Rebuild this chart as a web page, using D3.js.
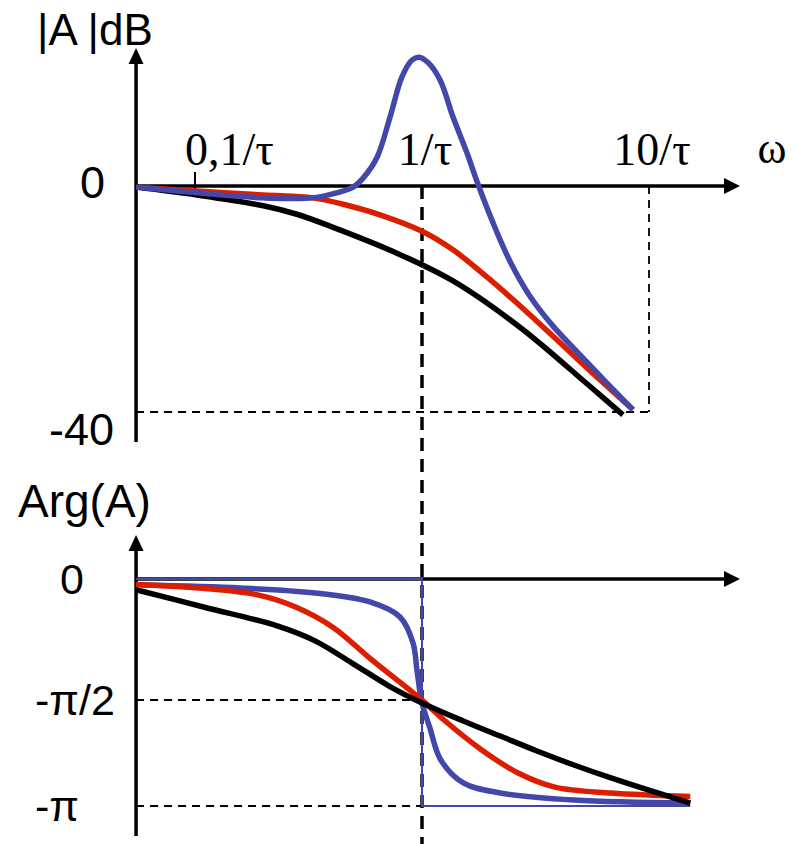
<!DOCTYPE html>
<html>
<head>
<meta charset="utf-8">
<script src="https://cdn.jsdelivr.net/npm/d3@7"></script>
<style>
    body { margin: 0; background: #fff; }
    .sans { font-family: "Liberation Sans", Arial, sans-serif; }
    .serif { font-family: "Liberation Serif", "Times New Roman", serif; }
</style>
</head>
<body>
<div id="chart"></div>
<script>
// frequencies in units of 1/tau, magnitude in dB, phase in degrees
const magBlackW = [0.055, 0.102, 0.2, 0.281, 0.393, 0.776, 1.37, 2.7, 5.33, 7.68];
const magBlackDb = [-0.2, -1.6, -3.5, -5.0, -7.1, -11.9, -16.8, -25.0, -35.0, -40.5];

const magRedW = [0.055, 0.102, 0.2, 0.331, 0.467, 0.653, 1, 1.37, 1.93, 2.7, 3.78, 5.33, 8.5];
const magRedDb = [-0.2, -0.9, -1.6, -2.1, -3.4, -5.1, -8.0, -11.3, -16.1, -21.2, -26.6, -32.2, -39.6];

const magBlueW = [0.055, 0.102, 0.2, 0.331, 0.422, 0.497, 0.55, 0.634, 0.723, 0.816, 0.904, 0.97, 1.06, 1.2, 1.37, 1.58, 1.75, 2.05, 2.44, 2.99, 3.78, 4.97, 6.53, 8.5];
const magBlueDb = [-0.2, -1.2, -2.1, -2.1, -1.2, -0.2, 1.4, 5.1, 12.2, 19.3, 22.3, 22.8, 21.9, 18.8, 12.2, 5.8, 0.7, -6.4, -13.3, -19.5, -24.8, -29.9, -34.9, -39.6];

const argBlackW = [0.055, 0.11, 0.232, 0.338, 0.492, 0.716, 1, 1.52, 2.21, 3.21, 4.67, 6.8, 9.9, 15.2];
const argBlackDeg = [-8, -21, -35, -46, -62.5, -79.6, -92.5, -107.8, -120.6, -133.3, -145.2, -156.2, -166.4, -177.5];

const argRedW = [0.055, 0.11, 0.191, 0.279, 0.406, 0.59, 0.859, 1, 1.25, 1.82, 2.65, 3.85, 6.8, 15.2];
const argRedDeg = [-4, -7, -12, -21, -36, -59, -81, -90, -107, -132, -152, -164, -169, -172];

const argBlueW = [0.058, 0.159, 0.338, 0.59, 0.8, 0.913, 0.95, 1, 1.08, 1.21, 1.52, 2.21, 4.67, 15.2];
const argBlueDeg = [-4.5, -6.7, -10.4, -17.1, -28.3, -47.6, -67.7, -92.5, -112.9, -140.9, -160.4, -168.9, -174.9, -177.5];

// ideal step of the undamped case
const stepW = [0.055, 1, 1, 15.2];
const stepDeg = [0, 0, -180, -180];

const xTicks = [0.1, 1, 10];
const xTickLabels = ["0,1/τ", "1/τ", "10/τ"];
const magTicks = [0, -40];
const magTickLabels = ["0", "-40"];
const argTicks = [0, -90, -180];
const argTickLabels = ["0", "-π/2", "-π"];

const wMin = 0.055;
const width = 795;
const height = 844;
const red = "#dc1e00";
const blue = "#4347a9";

const svg = d3.select("#chart")
    .append("svg")
    .attr("width", width)
    .attr("height", height);

const x = d3.scaleLog().domain([0.1, 10]).range([195, 649]);
const yMag = d3.scaleLinear().domain([0, -40]).range([186, 412]);
const yArg = d3.scaleLinear().domain([0, -90, -180]).range([579, 700, 806]);

const x0 = x(wMin);
const xArrow = 740;

const zip = (w, v) => w.map((d, i) => ({w: d, v: v[i]}));

function arrowUp(cx, tipY) {
    svg.append("path")
        .attr("d", `M${cx},${tipY} L${cx - 7.5},${tipY + 16} L${cx + 7.5},${tipY + 16} Z`)
        .attr("fill", "#000");
}
function arrowRight(tipX, cy) {
    svg.append("path")
        .attr("d", `M${tipX},${cy} L${tipX - 16},${cy - 8} L${tipX - 16},${cy + 8} Z`)
        .attr("fill", "#000");
}

// thick dashed line at 1/tau through both plots
svg.append("line")
    .attr("x1", x(1)).attr("x2", x(1))
    .attr("y1", yMag(0)).attr("y2", height)
    .attr("stroke", "#000")
    .attr("stroke-width", 3.5)
    .attr("stroke-dasharray", "13,8");

// thin dashed guides
const guides = [
    [x0, yMag(-40), x(10), yMag(-40)],
    [x(10), yMag(0), x(10), yMag(-40)],
    [x0, yArg(-90), x(1), yArg(-90)],
    [x0, yArg(-180), x(1), yArg(-180)]
];
svg.selectAll(".guide")
    .data(guides)
    .enter()
    .append("line")
    .attr("class", "guide")
    .attr("x1", d => d[0]).attr("y1", d => d[1])
    .attr("x2", d => d[2]).attr("y2", d => d[3])
    .attr("stroke", "#000")
    .attr("stroke-width", 1.8)
    .attr("stroke-dasharray", "8,6");

// axes
svg.append("line").attr("x1", x0).attr("x2", x0).attr("y1", 442).attr("y2", 60)
    .attr("stroke", "#000").attr("stroke-width", 3.5);
arrowUp(x0, 48);
svg.append("line").attr("x1", x0).attr("x2", xArrow - 10).attr("y1", yMag(0)).attr("y2", yMag(0))
    .attr("stroke", "#000").attr("stroke-width", 3.5);
arrowRight(xArrow, yMag(0));

svg.append("line").attr("x1", x0).attr("x2", x0).attr("y1", 836).attr("y2", 548)
    .attr("stroke", "#000").attr("stroke-width", 3.5);
arrowUp(x0, 535);
svg.append("line").attr("x1", x0).attr("x2", xArrow - 10).attr("y1", yArg(0)).attr("y2", yArg(0))
    .attr("stroke", "#000").attr("stroke-width", 3.5);
arrowRight(xArrow, yArg(0));

// small tick at 0.1/tau
svg.append("line")
    .attr("x1", x(0.1)).attr("x2", x(0.1))
    .attr("y1", yMag(0) - 14).attr("y2", yMag(0) + 10)
    .attr("stroke", "#000").attr("stroke-width", 2);

// labels
svg.selectAll(".xlab")
    .data(xTicks)
    .enter()
    .append("text")
    .attr("class", "serif")
    .attr("x", (d, i) => i === 0 ? x(d) - 10 : x(d) + 3)
    .attr("y", 165)
    .attr("text-anchor", (d, i) => i === 0 ? "start" : "middle")
    .attr("font-size", 46)
    .text((d, i) => xTickLabels[i]);

svg.append("text").attr("class", "serif")
    .attr("x", 772).attr("y", 163)
    .attr("text-anchor", "middle")
    .attr("font-size", 44)
    .text("ω");

const magLabelX = [80, 49];
svg.selectAll(".maglab")
    .data(magTicks)
    .enter()
    .append("text")
    .attr("class", "sans")
    .attr("x", (d, i) => magLabelX[i])
    .attr("y", d => yMag(d) + 12 + (d === 0 ? 0 : 21))
    .attr("font-size", 45)
    .text((d, i) => magTickLabels[i]);

const argLabelX = [60, 35, 35];
svg.selectAll(".arglab")
    .data(argTicks)
    .enter()
    .append("text")
    .attr("class", "sans")
    .attr("x", (d, i) => argLabelX[i])
    .attr("y", d => yArg(d) + 15)
    .attr("font-size", 43)
    .text((d, i) => argTickLabels[i]);

svg.append("text").attr("class", "sans")
    .attr("x", 37).attr("y", 45)
    .attr("font-size", 44)
    .text("|A |dB");

svg.append("text").attr("class", "sans")
    .attr("x", 18).attr("y", 517)
    .attr("font-size", 46)
    .text("Arg(A)");

// curves
const smooth = d3.curveCatmullRom.alpha(0.5);
const magLine = d3.line().x(d => x(d.w)).y(d => yMag(d.v)).curve(smooth);
const argLine = d3.line().x(d => x(d.w)).y(d => yArg(d.v)).curve(smooth);

const magSeries = [
    {data: zip(magRedW, magRedDb), color: red},
    {data: zip(magBlackW, magBlackDb), color: "#000"},
    {data: zip(magBlueW, magBlueDb), color: blue}
];
const argSeries = [
    {data: zip(argBlueW, argBlueDeg), color: blue},
    {data: zip(argRedW, argRedDeg), color: red},
    {data: zip(argBlackW, argBlackDeg), color: "#000"}
];

svg.append("path")
    .attr("d", d3.line().x(d => x(d.w)).y(d => yArg(d.v))(zip(stepW, stepDeg)))
    .attr("fill", "none")
    .attr("stroke", blue)
    .attr("stroke-width", 2);

svg.selectAll(".mag")
    .data(magSeries)
    .enter()
    .append("path")
    .attr("class", "mag")
    .attr("d", d => magLine(d.data))
    .attr("fill", "none")
    .attr("stroke", d => d.color)
    .attr("stroke-width", 5.5);

svg.selectAll(".arg")
    .data(argSeries)
    .enter()
    .append("path")
    .attr("class", "arg")
    .attr("d", d => argLine(d.data))
    .attr("fill", "none")
    .attr("stroke", d => d.color)
    .attr("stroke-width", 5.5);
</script>
</body>
</html>
